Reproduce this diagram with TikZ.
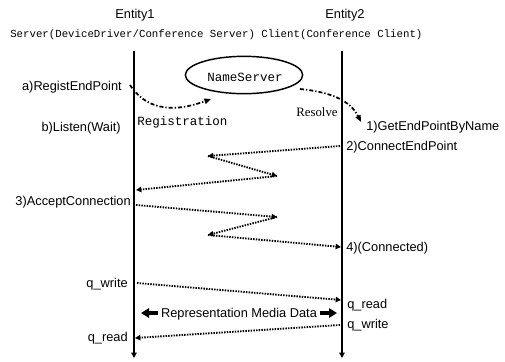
\documentclass[tikz,border=0pt]{standalone}
\usepackage{fontspec}
\setmainfont{Liberation Sans}
\newfontfamily\monof{Liberation Mono}
\newfontfamily\seriff{Liberation Serif}
\usetikzlibrary{arrows.meta,shapes.geometric}
\begin{document}
\begin{tikzpicture}[x=0.75pt,y=-0.75pt,
  lbl/.style={inner sep=0pt,font=\fontsize{9.6}{11}\selectfont},
  mono/.style={inner sep=0pt,font=\monof\fontsize{9.4}{11}\selectfont},
  life/.style={line width=1.3pt,-{Triangle[length=4pt,width=4pt]}},
  msg/.style={line width=1.4pt,dash pattern=on 1.1pt off 0.9pt,-{Triangle[length=4pt,width=4pt]}},
  dd/.style={line width=1.3pt,dash pattern=on 3pt off 1.5pt on 1pt off 1.5pt,-{Triangle[length=5pt,width=4pt]}},
  fat/.style={line width=2.4pt,-{Triangle[length=6pt,width=7pt]}}]
\useasboundingbox (0,0) rectangle (505,361);
% headers
\node[lbl] (e1) at (135,15) {Entity1};
\node[lbl] (e2) at (345,15) {Entity2};
\node[inner sep=0pt,anchor=west,font=\monof\fontsize{8.05}{10}\selectfont] (hdr) at (10,35) {Server(DeviceDriver/Conference Server) Client(Conference Client)};
% lifelines
\coordinate (L1t) at (134,51);
\coordinate (L1b) at (134,358);
\coordinate (R1t) at (342,51);
\coordinate (R1b) at (342,358);
\draw[life] (L1t) -- (L1b);
\draw[life] (R1t) -- (R1b);
% name server
\node[draw,ellipse,line width=1.1pt,minimum width=88pt,minimum height=28pt,fill=white,inner sep=0pt] (ns) at (244,75) {};
\node[mono] (nst) at (245,77) {NameServer};
% registration
\coordinate (ra) at (130,85);
\coordinate (rb) at (211,99);
\draw[dd] (ra) .. controls (145,108) and (170,114) .. (rb);
\coordinate (sa) at (300,89);
\coordinate (sb) at (361,122);
\draw[dd] (sa) .. controls (330,92) and (350,100) .. (sb);
\node[lbl,anchor=east] (a) at (122,87) {a)RegistEndPoint};
\node[lbl,anchor=east] (b) at (121,128) {b)Listen(Wait)};
\node[mono,anchor=west] (reg) at (137,122) {Registration};
\node[inner sep=0pt,font=\seriff\fontsize{9.6}{11}\selectfont] (res) at (317,112) {Resolve};
\node[lbl,anchor=west] (g1) at (366,127) {1)GetEndPointByName};
\node[lbl,anchor=west] (c2) at (346,147) {2)ConnectEndPoint};
\node[lbl,anchor=east] (c3) at (131,202) {3)AcceptConnection};
\node[lbl,anchor=west] (c4) at (346,248) {4)(Connected)};
% zigzag
\coordinate (A) at (340,146);
\coordinate (B) at (208,156);
\coordinate (C) at (277,176);
\coordinate (D) at (136,190);
\coordinate (E) at (136,205);
\coordinate (F) at (277,217);
\coordinate (G) at (208,235);
\coordinate (H) at (341,247);
\draw[msg] (A) -- (B);
\draw[msg] (B) -- (C);
\draw[msg] (C) -- (D);
\draw[msg] (E) -- (F);
\draw[msg] (F) -- (G);
\draw[msg] (G) -- (H);
% data
\coordinate (w1) at (137,283);
\coordinate (r1) at (341,300);
\coordinate (w2) at (340,325);
\coordinate (r2) at (135,338);
\draw[msg] (w1) -- (r1);
\draw[msg] (w2) -- (r2);
\node[lbl,anchor=east] (qw1) at (128,284) {q\_write};
\node[lbl,anchor=west] (qr1) at (347,305) {q\_read};
\node[lbl,anchor=west] (qw2) at (347,325) {q\_write};
\node[lbl,anchor=east] (qr2) at (128,338) {q\_read};
\node[lbl] (rmd) at (239,314) {Representation Media Data};
\coordinate (fl1) at (158,313);
\coordinate (fl2) at (141,313);
\coordinate (fr1) at (320,313);
\coordinate (fr2) at (337,313);
\draw[fat] (fl1) -- (fl2);
\draw[fat] (fr1) -- (fr2);
\end{tikzpicture}
\end{document}
